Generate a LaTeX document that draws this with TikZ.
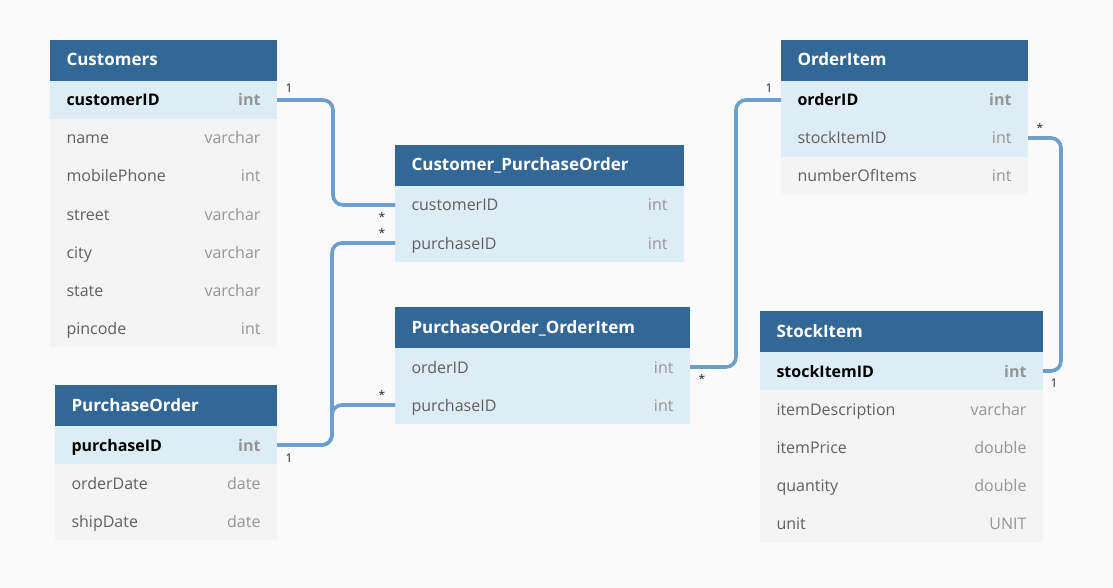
\documentclass[tikz,border=0pt]{standalone}
\usepackage{fontspec}
\setmainfont{Open Sans}
\definecolor{bgc}{HTML}{FAFAFA}
\definecolor{hdrc}{HTML}{336896}
\definecolor{keyc}{HTML}{DEECF5}
\definecolor{rowc}{HTML}{F4F4F4}
\definecolor{linec}{HTML}{6A9FCE}
\definecolor{namec}{HTML}{606060}
\definecolor{typec}{HTML}{959595}
\begin{document}
\begin{tikzpicture}[x=1pt,y=-1pt,
  base/.style={rectangle, anchor=north west, inner xsep=16.5pt, inner ysep=0pt, outer sep=0pt,
    minimum height=38pt, text width=#1, text height=13.5pt, text depth=1.5pt, align=left,
    font=\fontsize{16}{18}\selectfont},
  hdr/.style={base=#1, fill=hdrc, text=white, minimum height=41pt, text height=12.5pt,
    font=\fontsize{17}{19}\selectfont\bfseries},
  keyrow/.style={base=#1, fill=keyc},
  linkrow/.style={base=#1, fill=keyc, text=namec},
  row/.style={base=#1, fill=rowc, text=namec},
  conn/.style={draw=linec, line width=3.6pt, rounded corners=10pt},
  card/.style={font=\fontsize{12}{13}\selectfont, text=black!85, inner sep=0pt}]
\fill[bgc] (0,0) rectangle (1113,588);
% Customers (50..277)
\node[hdr=194pt] (cu) at (50,40) {Customers};
\node[keyrow=194pt] (cu1) at (50,81) {\textbf{customerID}\hfill\textcolor{typec}{\textbf{int}}};
\node[row=194pt] (cu2) at (50,119) {name\hfill\textcolor{typec}{varchar}};
\node[row=194pt] (cu3) at (50,157) {mobilePhone\hfill\textcolor{typec}{int}};
\node[row=194pt] (cu4) at (50,195) {street\hfill\textcolor{typec}{varchar}};
\node[row=194pt] (cu5) at (50,233) {city\hfill\textcolor{typec}{varchar}};
\node[row=194pt] (cu6) at (50,271) {state\hfill\textcolor{typec}{varchar}};
\node[row=194pt] (cu7) at (50,309) {pincode\hfill\textcolor{typec}{int}};
% PurchaseOrder (55..277)
\node[hdr=189pt] (po) at (55,385) {PurchaseOrder};
\node[keyrow=189pt] (po1) at (55,426) {\textbf{purchaseID}\hfill\textcolor{typec}{\textbf{int}}};
\node[row=189pt] (po2) at (55,464) {orderDate\hfill\textcolor{typec}{date}};
\node[row=189pt] (po3) at (55,502) {shipDate\hfill\textcolor{typec}{date}};
% Customer_PurchaseOrder (395..684)
\node[hdr=256pt] (cp) at (395,145) {Customer\_PurchaseOrder};
\node[linkrow=256pt] (cp1) at (395,186) {customerID\hfill\textcolor{typec}{int}};
\node[linkrow=256pt] (cp2) at (395,224) {purchaseID\hfill\textcolor{typec}{int}};
% PurchaseOrder_OrderItem (395..690)
\node[hdr=262pt] (pi) at (395,307) {PurchaseOrder\_OrderItem};
\node[linkrow=262pt] (pi1) at (395,348) {orderID\hfill\textcolor{typec}{int}};
\node[linkrow=262pt] (pi2) at (395,386) {purchaseID\hfill\textcolor{typec}{int}};
% OrderItem (781..1028)
\node[hdr=214pt] (oi) at (781,40) {OrderItem};
\node[keyrow=214pt] (oi1) at (781,81) {\textbf{orderID}\hfill\textcolor{typec}{\textbf{int}}};
\node[linkrow=214pt] (oi2) at (781,119) {stockItemID\hfill\textcolor{typec}{int}};
\node[row=214pt] (oi3) at (781,157) {numberOfItems\hfill\textcolor{typec}{int}};
% StockItem (760..1043)
\node[hdr=250pt] (si) at (760,311) {StockItem};
\node[keyrow=250pt] (si1) at (760,352) {\textbf{stockItemID}\hfill\textcolor{typec}{\textbf{int}}};
\node[row=250pt] (si2) at (760,390) {itemDescription\hfill\textcolor{typec}{varchar}};
\node[row=250pt] (si3) at (760,428) {itemPrice\hfill\textcolor{typec}{double}};
\node[row=250pt] (si4) at (760,466) {quantity\hfill\textcolor{typec}{double}};
\node[row=250pt] (si5) at (760,504) {unit\hfill\textcolor{typec}{UNIT}};
% connectors
\draw[conn] (cu1.east) -- ++(56,0) |- (cp1.west);
\draw[conn] (po1.east) -- ++(55,0) |- (cp2.west);
\draw[conn] (po1.east) -- ++(55,0) |- (pi2.west);
\draw[conn] (pi1.east) -- ++(46,0) |- (oi1.west);
\draw[conn] (oi2.east) -- ++(33,0) |- (si1.east);
% cardinalities
\node[card] (l1) at (289,88) {1};
\node[card] (l2) at (382,217) {*};
\node[card] (l3) at (382,233) {*};
\node[card] (l4) at (289,458) {1};
\node[card] (l5) at (382,395) {*};
\node[card] (l6) at (702,379) {*};
\node[card] (l7) at (769,88) {1};
\node[card] (l8) at (1040,128) {*};
\node[card] (l9) at (1054,383) {1};
\end{tikzpicture}
\end{document}
